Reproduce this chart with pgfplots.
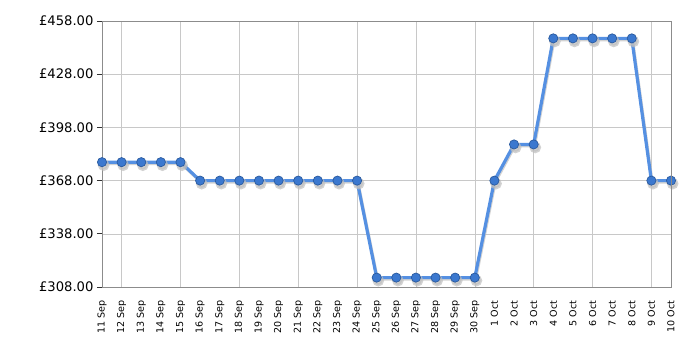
\documentclass[border=0pt]{standalone}
\usepackage{fontspec}
\setmainfont{DejaVu Sans}
\usepackage{pgfplots}
\pgfplotsset{compat=1.18}
\definecolor{lineblue}{HTML}{5590E2}
\definecolor{markblue}{HTML}{3B78CF}
\definecolor{markedge}{HTML}{2A5A9E}
\definecolor{gridc}{HTML}{C8C8C8}
\definecolor{axisc}{HTML}{8C8C8C}
\begin{document}
\begin{tikzpicture}[x=1bp,y=1bp]
\begin{axis}[
  name=ax, at={(0,0)}, anchor=south west,
  scale only axis, width=569bp, height=266bp,
  xmin=0, xmax=29, ymin=308, ymax=458,
  ytick={308,338,368,398,428,458},
  yticklabel={\pounds\pgfmathprintnumber[fixed,fixed zerofill,precision=2]{\tick}},
  /pgf/number format/assume math mode=true,
  /pgf/number format/1000 sep={},
  yticklabel style={font=\fontsize{13.2}{14}\selectfont, xshift=0bp},
  ymajorgrids, grid style={gridc, line width=0.6bp},
  xtick={0,...,29},
  xticklabels={11 Sep,12 Sep,13 Sep,14 Sep,15 Sep,16 Sep,17 Sep,18 Sep,19 Sep,20 Sep,21 Sep,22 Sep,23 Sep,24 Sep,25 Sep,26 Sep,27 Sep,28 Sep,29 Sep,30 Sep,1 Oct,2 Oct,3 Oct,4 Oct,5 Oct,6 Oct,7 Oct,8 Oct,9 Oct,10 Oct},
  xticklabel style={font=\fontsize{9.6}{10}\selectfont, rotate=90, anchor=east, xshift=-5bp},
  xtick style={draw=none},
  extra x ticks={1,4,7,10,13,16,19,22,25,28},
  extra x tick labels={},
  extra x tick style={xmajorgrids, tick style={draw=black!80, line width=0.8bp}, major tick length=5bp, tick align=outside},
  ytick style={draw=black!80, line width=0.8bp},
  major tick length=5bp, tick align=outside,
  tick pos=left,
  axis line style={axisc, line width=0.9bp},
  clip=false,
]
\addplot[gray!50, opacity=0.7, line width=3bp, mark=*, mark size=4.3bp, mark options={fill=gray!50, draw=none}, transform canvas={xshift=0.8bp, yshift=-1.5bp}] coordinates {
(0,378.4)(1,378.4)(2,378.4)(3,378.4)(4,378.4)
(5,368)(6,368)(7,368)(8,368)(9,368)(10,368)(11,368)(12,368)(13,368)
(14,313.3)(15,313.3)(16,313.3)(17,313.3)(18,313.3)(19,313.3)
(20,368)(21,388.4)(22,388.4)
(23,448.2)(24,448.2)(25,448.2)(26,448.2)(27,448.2)
(28,368)(29,368)};
\addplot[lineblue, line width=3.2bp, mark=*, mark size=4.6bp, mark options={fill=markblue, draw=markedge, line width=0.7bp}] coordinates {
(0,378.4)(1,378.4)(2,378.4)(3,378.4)(4,378.4)
(5,368)(6,368)(7,368)(8,368)(9,368)(10,368)(11,368)(12,368)(13,368)
(14,313.3)(15,313.3)(16,313.3)(17,313.3)(18,313.3)(19,313.3)
(20,368)(21,388.4)(22,388.4)
(23,448.2)(24,448.2)(25,448.2)(26,448.2)(27,448.2)
(28,368)(29,368)};
\end{axis}
\draw[axisc, line width=0.9bp] (0,266) -- (569,266) -- (569,0);
\pgfresetboundingbox
\path[use as bounding box] (-102,-63) rectangle (598,287);
\end{tikzpicture}
\end{document}
